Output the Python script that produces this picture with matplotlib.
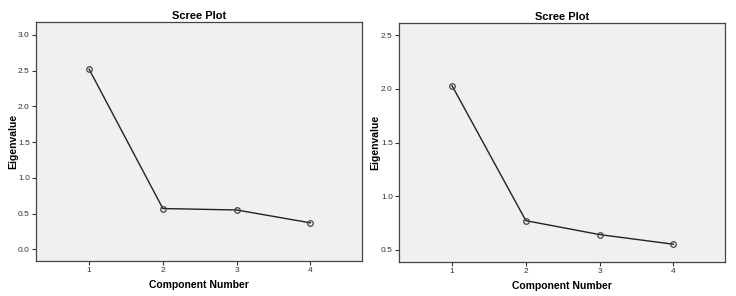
import matplotlib
matplotlib.use("Agg")
import matplotlib.pyplot as plt

plt.rcParams['font.family'] = ['Liberation Sans', 'DejaVu Sans']

components = [1, 2, 3, 4]
eigen_left = [2.52, 0.57, 0.55, 0.37]
eigen_right = [2.03, 0.77, 0.64, 0.55]

left_yticks = [0.0, 0.5, 1.0, 1.5, 2.0, 2.5, 3.0]
right_yticks = [0.5, 1.0, 1.5, 2.0, 2.5]

fig = plt.figure(figsize=(7.36, 2.96), dpi=100)
W, H = 736, 296


def scree(box, values, yticks, ylim, ylab_x):
    x0, y0, x1, y1 = box
    ax = fig.add_axes([x0 / W, 1 - y1 / H, (x1 - x0) / W, (y1 - y0) / H])
    ax.set_facecolor('#f0f0f0')
    ax.plot(components, values, color='#222222', lw=1.0,
            marker='o', ms=4, mfc='none', mec='#444444', mew=0.9)
    ax.set_xlim(0.28, 4.7)
    ax.set_ylim(*ylim)
    ax.set_xticks(components)
    ax.set_yticks(yticks)
    ax.set_yticklabels([f"{t:.1f}" for t in yticks])
    ax.tick_params(labelsize=6, length=3, width=0.8, colors='#333333', pad=1.5)
    for s in ax.spines.values():
        s.set_color('#444444')
        s.set_linewidth(0.9)
    ax.set_title('Scree Plot', fontsize=8, fontweight='bold', pad=2.5)
    ax.set_xlabel('Component Number', fontsize=7.5, fontweight='bold', labelpad=4)
    ax.set_ylabel('Eigenvalue', fontsize=7.5, fontweight='bold')
    ax.yaxis.set_label_coords((ylab_x - x0) / (x1 - x0), 0.5)
    return ax


scree((36, 22, 362, 261), eigen_left, left_yticks, (-0.164, 3.18), 18)
scree((399, 23, 725, 262), eigen_right, right_yticks, (0.384, 2.616), 380)

fig.savefig('out.png', dpi=100)
